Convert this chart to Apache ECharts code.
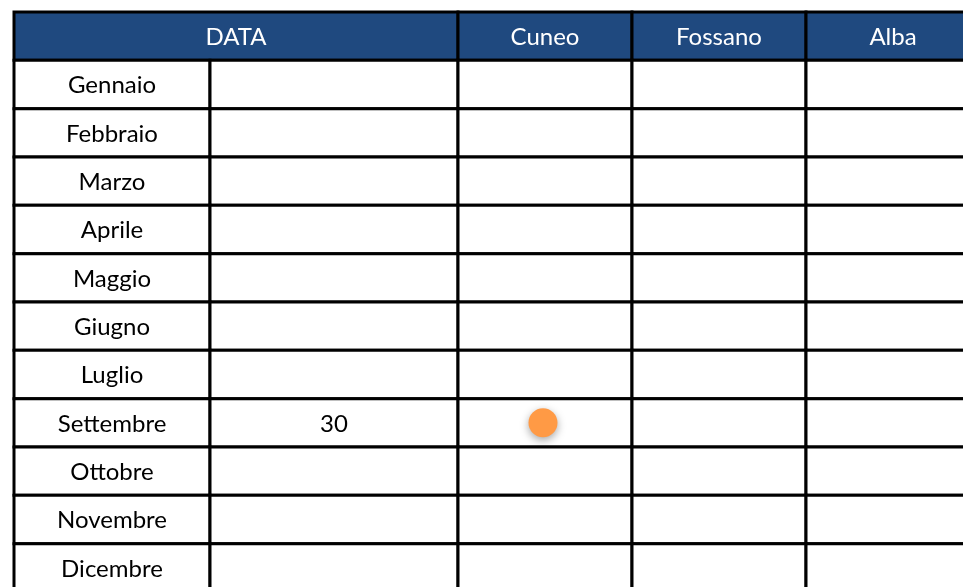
<!DOCTYPE html>
<html>
<head>
<meta charset="utf-8">
<script src="https://cdn.jsdelivr.net/npm/echarts@6/dist/echarts.min.js"></script>
<style>html,body{margin:0;padding:0;background:#fff;overflow:hidden;}#main{width:963px;height:587px;}</style>
</head>
<body>
<div id="main"></div>
<script>
// ---- data ----
const months = ['Gennaio','Febbraio','Marzo','Aprile','Maggio','Giugno','Luglio','Settembre','Ottobre','Novembre','Dicembre'];
const headers = ['DATA','Cuneo','Fossano','Alba'];
const dataValues = ['','','','','','','','30','','',''];
const cuneoPoints = ['Settembre'];
const fossanoPoints = [];
const albaPoints = [];

// ---- layout (column boundaries in axis units) ----
const colEdges = [0, 196, 444, 618, 792, 966];
const rows = ['__header__'].concat(months);

const cells = [];
// header: DATA spans the first two columns
cells.push({c0:0, c1:2, row:0, text:headers[0], header:true});
for (let i = 1; i < headers.length; i++) cells.push({c0:i+1, c1:i+2, row:0, text:headers[i], header:true});
months.forEach((m, r) => {
  cells.push({c0:0, c1:1, row:r+1, text:m});
  cells.push({c0:1, c1:2, row:r+1, text:dataValues[r]});
  for (let i = 2; i < 5; i++) cells.push({c0:i, c1:i+1, row:r+1, text:''});
});

const colCenter = i => (colEdges[i] + colEdges[i+1]) / 2;
const dotStyle = {color: '#ff9a45', opacity: 1, shadowBlur: 8, shadowColor: 'rgba(0,0,0,0.35)', shadowOffsetY: 3};

const chart = echarts.init(document.getElementById('main'), null, {renderer:'canvas'});
chart.setOption({
  animation: false,
  backgroundColor: '#ffffff',
  grid: {left: 14, top: 12, width: 966, height: 580, containLabel: false, outerBoundsMode: 'none'},
  xAxis: {type: 'value', min: colEdges[0], max: colEdges[colEdges.length-1], show: false},
  yAxis: {type: 'category', data: rows, inverse: true, show: false},
  series: [
    {
      type: 'custom',
      clip: false,
      data: cells.map(c => [colEdges[c.c0], c.row]),
      renderItem: function (params, api) {
        const c = cells[params.dataIndex];
        const p0 = api.coord([colEdges[c.c0], c.row]);
        const p1 = api.coord([colEdges[c.c1], c.row]);
        const h = api.size([0, 1])[1];
        return {
          type: 'group',
          children: [
            {type: 'rect', shape: {x: p0[0], y: p0[1] - h/2, width: p1[0] - p0[0], height: h},
             style: {fill: c.header ? '#1f497f' : '#ffffff', stroke: '#000000', lineWidth: 3}},
            {type: 'text', style: {x: (p0[0] + p1[0]) / 2, y: p0[1] + 1, text: c.text,
              fill: c.header ? '#ffffff' : '#000000', font: '24px Lato', align: 'center', verticalAlign: 'middle'}}
          ]
        };
      },
      z: 1
    },
    {
      type: 'scatter',
      name: 'Cuneo',
      data: cuneoPoints.map(m => [colCenter(2) - 2, m]),
      symbolSize: 29,
      itemStyle: dotStyle,
      z: 5
    },
    {
      type: 'scatter',
      name: 'Fossano',
      data: fossanoPoints.map(m => [colCenter(3), m]),
      symbolSize: 29,
      itemStyle: dotStyle,
      z: 5
    },
    {
      type: 'scatter',
      name: 'Alba',
      data: albaPoints.map(m => [colCenter(4), m]),
      symbolSize: 29,
      itemStyle: dotStyle,
      z: 5
    }
  ]
});
</script>
</body>
</html>
